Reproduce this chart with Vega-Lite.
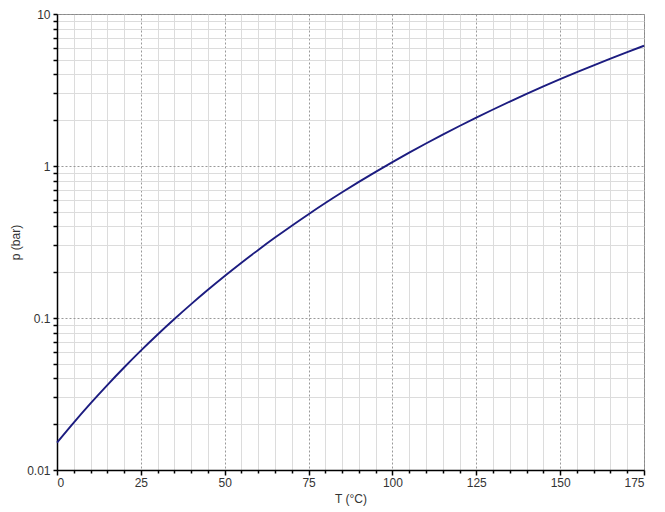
{
  "$schema": "https://vega.github.io/schema/vega-lite/v6.json",
  "width": 587,
  "height": 456,
  "autosize": {"type": "none"},
  "padding": {"left": 57, "top": 14, "right": 21, "bottom": 42},
  "background": "white",
  "config": {
    "view": {"stroke": "#888888", "strokeWidth": 1},
    "axis": {
      "labelFont": "Liberation Sans",
      "titleFont": "Liberation Sans",
      "labelFontSize": 12,
      "titleFontSize": 12,
      "titleFontWeight": "normal",
      "labelColor": "#333333",
      "titleColor": "#333333",
      "domainColor": "#000000",
      "domainWidth": 1.5,
      "tickColor": "#000000",
      "tickWidth": 1.5
    }
  },
  "data": {
    "values": [
      {"T": 0, "p": 0.01515},
      {"T": 5, "p": 0.02052},
      {"T": 10, "p": 0.02743},
      {"T": 15, "p": 0.03621},
      {"T": 20, "p": 0.04723},
      {"T": 25, "p": 0.06095},
      {"T": 30, "p": 0.07784},
      {"T": 35, "p": 0.09843},
      {"T": 40, "p": 0.12334},
      {"T": 45, "p": 0.15322},
      {"T": 50, "p": 0.18884},
      {"T": 55, "p": 0.23095},
      {"T": 60, "p": 0.28037},
      {"T": 65, "p": 0.33801},
      {"T": 70, "p": 0.40485},
      {"T": 75, "p": 0.48195},
      {"T": 80, "p": 0.57042},
      {"T": 85, "p": 0.67125},
      {"T": 90, "p": 0.786},
      {"T": 95, "p": 0.9154},
      {"T": 100, "p": 1.061},
      {"T": 105, "p": 1.2241},
      {"T": 110, "p": 1.4063},
      {"T": 115, "p": 1.6087},
      {"T": 120, "p": 1.8333},
      {"T": 125, "p": 2.0806},
      {"T": 130, "p": 2.3528},
      {"T": 135, "p": 2.6521},
      {"T": 140, "p": 2.9785},
      {"T": 145, "p": 3.3352},
      {"T": 150, "p": 3.7221},
      {"T": 155, "p": 4.1419},
      {"T": 160, "p": 4.5971},
      {"T": 165, "p": 5.0876},
      {"T": 170, "p": 5.6155},
      {"T": 175, "p": 6.1825}
    ]
  },
  "mark": {"type": "line", "color": "#1c1c80", "strokeWidth": 1.9, "interpolate": "monotone"},
  "encoding": {
    "x": {
      "field": "T",
      "type": "quantitative",
      "scale": {"domain": [0, 175], "nice": false, "zero": false},
      "axis": {
        "title": "T (°C)",
        "titlePadding": 5,
        "values": [0,5,10,15,20,25,30,35,40,45,50,55,60,65,70,75,80,85,90,95,100,105,110,115,120,125,130,135,140,145,150,155,160,165,170,175],
        "labelExpr": "datum.value % 25 === 0 ? datum.label : ''",
        "labelPadding": 2,
        "tickSize": {"condition": {"test": "datum.value % 25 === 0", "value": 5}, "value": 3},
        "grid": true,
        "gridColor": {"condition": {"test": "datum.value % 25 === 0", "value": "#999999"}, "value": "#dcdcdc"},
        "gridDash": {"condition": {"test": "datum.value % 25 === 0", "value": [2, 2]}, "value": []},
        "gridWidth": 1
      }
    },
    "y": {
      "field": "p",
      "type": "quantitative",
      "scale": {"type": "log", "domain": [0.01, 10], "nice": false},
      "axis": {
        "title": "p (bar)",
        "titlePadding": 4,
        "values": [0.01,0.02,0.03,0.04,0.05,0.06,0.07,0.08,0.09,0.1,0.2,0.3,0.4,0.5,0.6,0.7,0.8,0.9,1,2,3,4,5,6,7,8,9,10],
        "labelExpr": "datum.value == 0.01 ? '0.01' : datum.value == 0.1 ? '0.1' : datum.value == 1 ? '1' : datum.value == 10 ? '10' : ''",
        "labelPadding": 3,
        "tickSize": 4,
        "grid": true,
        "gridColor": {"condition": {"test": "datum.value == 0.01 || datum.value == 0.1 || datum.value == 1 || datum.value == 10", "value": "#999999"}, "value": "#dcdcdc"},
        "gridDash": {"condition": {"test": "datum.value == 0.01 || datum.value == 0.1 || datum.value == 1 || datum.value == 10", "value": [2, 2]}, "value": []},
        "gridWidth": 1
      }
    }
  }
}
